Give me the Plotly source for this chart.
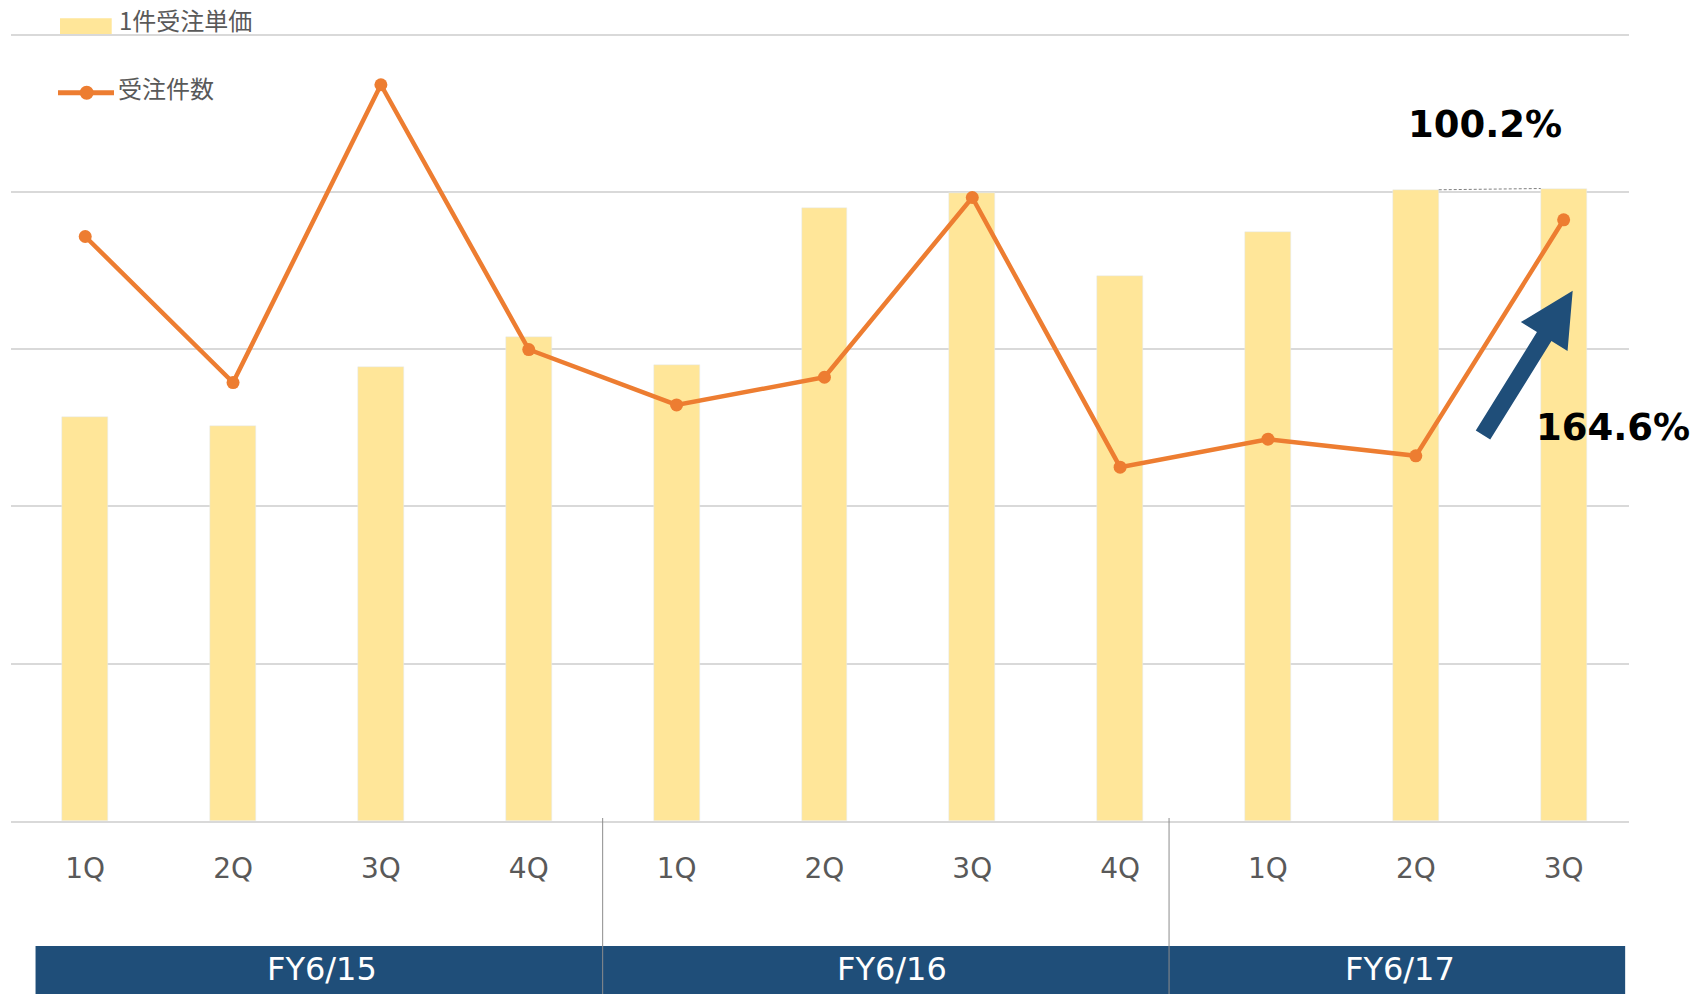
import plotly.graph_objects as go

# ---------------- data ----------------
quarters = ["1Q", "2Q", "3Q", "4Q", "1Q", "2Q", "3Q", "4Q", "1Q", "2Q", "3Q"]
unit_price = [2.570, 2.513, 2.888, 3.079, 2.901, 3.900, 3.994, 3.463, 3.745, 4.014, 4.022]
order_count = [3.717, 2.788, 4.682, 2.998, 2.646, 2.822, 3.965, 2.250, 2.428, 2.322, 3.823]
fiscal_years = ["FY6/15", "FY6/16", "FY6/17"]
price_name = "1件受注単価"
count_name = "受注件数"
price_change_label = "100.2%"
count_change_label = "164.6%"

# ---------------- layout constants ----------------
W, H = 1692, 994
ML, MR, MT, MB = 11, W - 1629, 19, H - 821
PW, PH = W - ML - MR, H - MT - MB
XR = [-0.502, 10.442]
YR = [0, 5.1]
BAR_W = 0.31
ORANGE = "#ED7D31"
GOLD = "#FFE699"
NAVY = "#1F4E79"
GRID = "#D9D9D9"
TXT = "#595959"


def px2x(px):
    return (px - ML) / PW


def px2y(py):
    return (H - MB - py) / PH


xs = list(range(len(quarters)))

fig = go.Figure()
fig.add_trace(go.Bar(
    x=xs, y=unit_price, name=price_name, marker_color=GOLD,
    width=BAR_W, yaxis="y", showlegend=False,
))
fig.add_trace(go.Scatter(
    x=xs, y=order_count, name=count_name, mode="lines+markers",
    line=dict(color=ORANGE, width=4.5), marker=dict(color=ORANGE, size=13),
    yaxis="y2", showlegend=False, cliponaxis=False,
))

shapes = []
annotations = []

# fiscal-year band
band_edges = [-0.336, 3.5, 7.331, 10.416]
fy_centers = [1.602, 5.457, 8.893]
shapes.append(dict(type="rect", xref="x", yref="paper", x0=band_edges[0], x1=band_edges[-1],
                   y0=px2y(946), y1=px2y(1000), fillcolor=NAVY, line=dict(width=0), layer="above"))
for bx in band_edges[1:-1]:
    shapes.append(dict(type="line", xref="x", yref="paper", x0=bx, x1=bx,
                       y0=px2y(818), y1=px2y(1000), line=dict(color="#8C8C8C", width=1), layer="above"))
for cx, lab in zip(fy_centers, fiscal_years):
    annotations.append(dict(x=cx, y=px2y(969), xref="x", yref="paper", text=lab, showarrow=False,
                            font=dict(family="DejaVu Sans", size=32, color="white"),
                            xanchor="center", yanchor="middle"))

# dashed connector between last two bars
shapes.append(dict(type="line", xref="x", yref="y", x0=9 + BAR_W / 2, x1=10 - BAR_W / 2,
                   y0=unit_price[9], y1=unit_price[10],
                   line=dict(color="#7F7F7F", width=1, dash="3px,2px"), layer="above"))

# arrow (pixels -> paper)
tail = (1483.0, 435.0)
tip = (1572.7, 290.7)
dx, dy = tip[0] - tail[0], tip[1] - tail[1]
L = (dx * dx + dy * dy) ** 0.5
ux, uy = dx / L, dy / L
nx, ny = -uy, ux
sw, hw, hl = 8.5, 27.5, 54.0
bx_, by_ = tip[0] - hl * ux, tip[1] - hl * uy
pts = [
    (tail[0] + sw * nx, tail[1] + sw * ny),
    (bx_ + sw * nx, by_ + sw * ny),
    (bx_ + hw * nx, by_ + hw * ny),
    tip,
    (bx_ - hw * nx, by_ - hw * ny),
    (bx_ - sw * nx, by_ - sw * ny),
    (tail[0] - sw * nx, tail[1] - sw * ny),
]
path = "M " + " L ".join(f"{px2x(p[0]):.5f},{px2y(p[1]):.5f}" for p in pts) + " Z"
shapes.append(dict(type="path", xref="paper", yref="paper", path=path,
                   fillcolor=NAVY, line=dict(width=0), layer="above"))

# percentage labels
annotations.append(dict(x=px2x(1485), y=px2y(124), xref="paper", yref="paper", text=price_change_label,
                        showarrow=False, font=dict(family="DejaVu Sans", size=37, color="black", weight="bold"),
                        xanchor="center", yanchor="middle"))
annotations.append(dict(x=px2x(1613), y=px2y(427), xref="paper", yref="paper", text=count_change_label,
                        showarrow=False, font=dict(family="DejaVu Sans", size=37, color="black", weight="bold"),
                        xanchor="center", yanchor="middle"))

# manual legend
shapes.append(dict(type="rect", xref="paper", yref="paper", x0=px2x(60), x1=px2x(111.7),
                   y0=px2y(34.3), y1=px2y(18.3), fillcolor=GOLD, line=dict(width=0), layer="below"))
annotations.append(dict(x=px2x(117), y=px2y(19.5), xref="paper", yref="paper", text=price_name,
                        showarrow=False, font=dict(family="Noto Sans CJK JP", size=24, color=TXT),
                        xanchor="left", yanchor="middle"))
shapes.append(dict(type="line", xref="paper", yref="paper", x0=px2x(58), x1=px2x(114),
                   y0=px2y(92.7), y1=px2y(92.7), line=dict(color=ORANGE, width=5), layer="above"))
shapes.append(dict(type="circle", xref="paper", yref="paper", x0=px2x(86.7 - 7), x1=px2x(86.7 + 7),
                   y0=px2y(92.7 + 7), y1=px2y(92.7 - 7), fillcolor=ORANGE, line=dict(width=0), layer="above"))
annotations.append(dict(x=px2x(116), y=px2y(87), xref="paper", yref="paper", text=count_name,
                        showarrow=False, font=dict(family="Noto Sans CJK JP", size=24, color=TXT),
                        xanchor="left", yanchor="middle"))

fig.update_layout(
    width=W, height=H,
    margin=dict(l=ML, r=MR, t=MT, b=MB),
    paper_bgcolor="white", plot_bgcolor="white",
    showlegend=False,
    bargap=0,
    xaxis=dict(range=XR, tickmode="array", tickvals=xs, ticktext=quarters,
               tickfont=dict(family="DejaVu Sans", size=28, color=TXT),
               showgrid=False, zeroline=False, showline=True, linecolor=GRID, linewidth=1.5,
               ticks="", ticklabelstandoff=22, fixedrange=True),
    yaxis=dict(range=YR, tick0=0, dtick=1, showgrid=True, gridcolor=GRID, gridwidth=1.5,
               showticklabels=False, zeroline=False, ticks="", fixedrange=True),
    yaxis2=dict(range=YR, overlaying="y", side="right", showgrid=False, showticklabels=False,
                zeroline=False, ticks="", fixedrange=True),
    shapes=shapes,
    annotations=annotations,
)

fig.write_html(
    "out.html",
    config={"displayModeBar": False},
    post_script="document.body.style.margin='0';document.body.style.overflow='hidden';",
)
